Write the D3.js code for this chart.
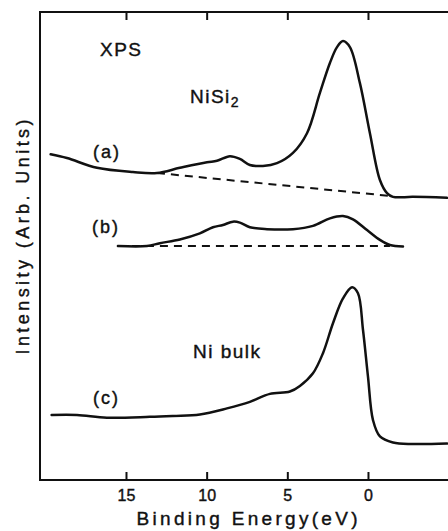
<!DOCTYPE html>
<html>
<head>
<meta charset="utf-8">
<script src="https://cdn.jsdelivr.net/npm/d3@7"></script>
<style>
  body { margin: 0; background: #fff; }
  svg text { font-family: "Liberation Sans", Arial, sans-serif; fill: #111; stroke: #111; stroke-width: 0.4; }
</style>
</head>
<body>
<svg id="chart" width="448" height="531"></svg>
<script>
// binding energy (eV) and intensity (arb. units, 0 = bottom axis, 100 = top frame)
var energyA = [19.67, 18.66, 16.80, 14.57, 13.08, 11.66, 9.98, 9.36, 8.56, 7.94, 7.32, 6.51, 5.64, 4.65, 3.78, 2.98, 2.36, 1.92, 1.55, 1.12, 0.50, -0.12, -0.74, -1.18, -1.55, -2.79, -4.90];
var intensA = [69.6, 68.8, 66.7, 65.8, 65.6, 66.7, 67.9, 68.2, 69.2, 68.6, 67.3, 67.1, 67.7, 69.9, 74.1, 82.7, 89.1, 92.5, 93.8, 92.5, 84.8, 74.1, 64.1, 61.3, 60.5, 60.5, 60.3];
var baseA = [[13.08, 65.6], [-1.36, 60.7]];

var energyB = [15.50, 13.70, 12.90, 11.66, 10.42, 9.61, 8.99, 8.37, 7.94, 7.32, 6.26, 4.65, 3.41, 2.36, 1.55, 0.93, 0.06, -0.74, -1.36, -2.17];
var intensB = [50.0, 50.0, 50.6, 51.4, 52.7, 54.0, 54.5, 55.2, 55.0, 54.0, 53.6, 53.6, 54.3, 55.9, 56.4, 55.7, 53.4, 51.3, 50.2, 49.9];
var baseB = [[15.50, 50.0], [-1.36, 50.0]];

var energyC = [19.61, 18.04, 16.18, 13.52, 12.09, 10.42, 8.74, 7.32, 6.08, 4.84, 4.22, 3.41, 2.79, 2.17, 1.55, 0.99, 0.62, 0.31, 0.00, -0.31, -0.74, -1.55, -2.79, -4.90];
var intensC = [13.9, 13.9, 13.3, 13.5, 13.7, 14.0, 15.3, 16.7, 18.4, 18.9, 20.1, 22.8, 27.1, 33.5, 38.8, 41.2, 39.9, 32.1, 22.1, 12.8, 9.3, 8.0, 7.7, 7.8];

var tickValues = [15, 10, 5, 0];

(function() {
  var svg = d3.select("#chart");
  var mLeft = 40, mRight = 448, mTop = 12, mBottom = 480;

  var x = d3.scaleLinear().domain([20.33, -4.96]).range([mLeft, mRight]);
  var y = d3.scaleLinear().domain([0, 100]).range([mBottom, mTop]);

  // frame (left, top, bottom) - no right border in the original
  svg.append("path")
    .attr("d", "M" + mRight + "," + mTop + "H" + mLeft + "V" + mBottom + "H" + mRight)
    .attr("fill", "none").attr("stroke", "#111").attr("stroke-width", 2);

  var xb = d3.axisBottom(x).tickValues(tickValues).tickSize(-8).tickPadding(10).tickFormat(d3.format("d"));
  var gb = svg.append("g").attr("transform", "translate(0," + mBottom + ")").call(xb);
  gb.select(".domain").remove();
  gb.selectAll("line").attr("stroke", "#111").attr("stroke-width", 2);
  gb.selectAll("text").attr("font-size", 16).attr("font-family", "Liberation Sans, Arial, sans-serif");

  var xt = d3.axisTop(x).tickValues(tickValues).tickSize(-8).tickFormat("");
  var gt = svg.append("g").attr("transform", "translate(0," + mTop + ")").call(xt);
  gt.select(".domain").remove();
  gt.selectAll("line").attr("stroke", "#111").attr("stroke-width", 2);

  var line = d3.line().curve(d3.curveCatmullRom.alpha(0.5))
    .x(function(d) { return x(d[0]); })
    .y(function(d) { return y(d[1]); });

  function draw(es, vs) {
    svg.append("path")
      .datum(d3.zip(es, vs))
      .attr("d", line)
      .attr("fill", "none").attr("stroke", "#111").attr("stroke-width", 2.5)
      .attr("stroke-linejoin", "round").attr("stroke-linecap", "round");
  }
  function dashed(pts) {
    svg.append("path")
      .datum(pts)
      .attr("d", d3.line().x(function(d) { return x(d[0]); }).y(function(d) { return y(d[1]); }))
      .attr("fill", "none").attr("stroke", "#111").attr("stroke-width", 2)
      .attr("stroke-dasharray", "8,6");
  }

  dashed(baseA);
  dashed(baseB);
  draw(energyA, intensA);
  draw(energyB, intensB);
  draw(energyC, intensC);

  function label(txt, px, py, size) {
    return svg.append("text").attr("x", px).attr("y", py)
      .attr("font-size", size).attr("dominant-baseline", "middle").text(txt);
  }
  label("XPS", 100, 51, 19).attr("letter-spacing", 1.5);
  var ns = label("NiSi", 190, 98, 19).attr("letter-spacing", 1.5);
  ns.append("tspan").attr("font-size", 14).attr("dy", 5).text("2");
  label("(a)", 93, 153, 18).attr("letter-spacing", 2);
  label("(b)", 92, 228, 18).attr("letter-spacing", 2);
  label("Ni  bulk", 193, 353, 19).attr("letter-spacing", 1.5);
  label("(c)", 93, 399, 18).attr("letter-spacing", 2);

  svg.append("text")
    .attr("x", 247).attr("y", 520)
    .attr("text-anchor", "middle").attr("dominant-baseline", "middle")
    .attr("font-size", 19).attr("textLength", 221).attr("lengthAdjust", "spacing")
    .text("Binding Energy(eV)");

  svg.append("text")
    .attr("transform", "translate(24,237) rotate(-90)")
    .attr("text-anchor", "middle").attr("dominant-baseline", "middle")
    .attr("font-size", 18).attr("textLength", 235).attr("lengthAdjust", "spacing")
    .text("Intensity  (Arb.  Units)");
})();
</script>
</body>
</html>
